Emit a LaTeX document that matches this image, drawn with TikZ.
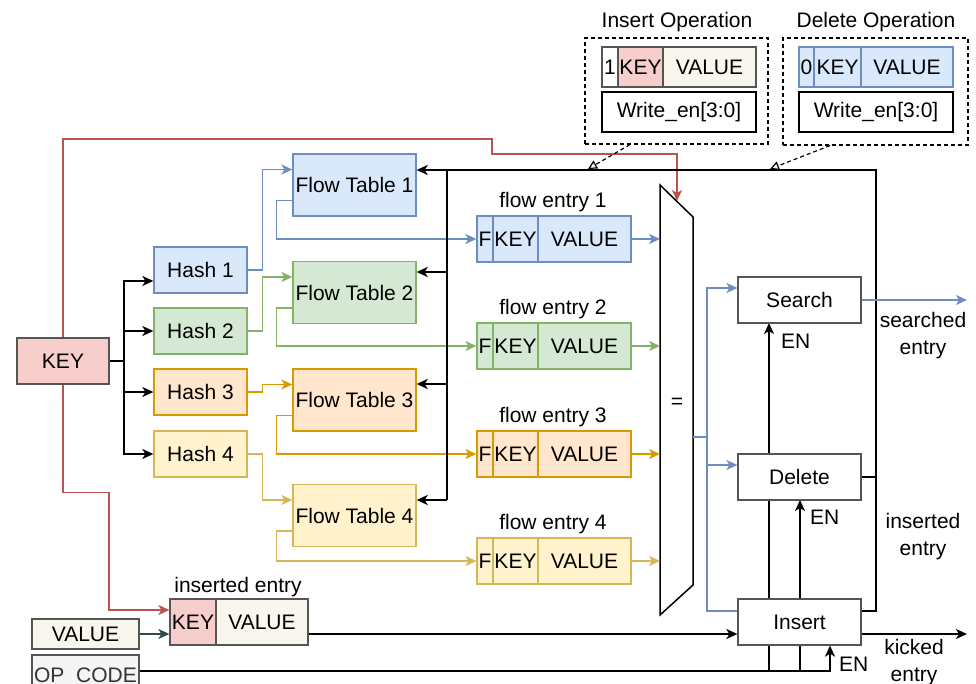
\documentclass[tikz,border=0pt]{standalone}
\usepackage{fontspec}
\setmainfont{Liberation Sans}
\usetikzlibrary{arrows.meta}

\definecolor{bfill}{HTML}{DAE8FC}\definecolor{bline}{HTML}{6C8EBF}
\definecolor{gfill}{HTML}{D5E8D4}\definecolor{gline}{HTML}{82B366}
\definecolor{ofill}{HTML}{FFE6CC}\definecolor{oline}{HTML}{D79B00}
\definecolor{yfill}{HTML}{FFF2CC}\definecolor{yline}{HTML}{D6B656}
\definecolor{rfill}{HTML}{F8CECC}\definecolor{rline}{HTML}{B85450}
\definecolor{vfill}{HTML}{F9F7ED}\definecolor{opfill}{HTML}{F5F5F5}
\definecolor{edge}{HTML}{555555}\definecolor{optext}{HTML}{333333}
\definecolor{slate}{HTML}{2B4C48}

\begin{document}
\begin{tikzpicture}[x=1pt,y=-1pt,
  every node/.style={font=\fontsize{21}{27}\selectfont, inner sep=0pt},
  boxst/.style={line width=1.3pt, minimum height=46pt},
  lcell/.style={line width=1.3pt, minimum height=40pt},
  wire/.style={line width=1.5pt},
  bus/.style={line width=2.2pt},
  arr/.style={-{Stealth[length=11pt,width=10pt,inset=3pt]}},
  opentip/.style={-{Triangle[length=9pt,width=9pt,fill=white]}},
  legend/.style={draw, dashed, dash pattern=on 4pt off 3pt, line width=1.2pt}]
\useasboundingbox (0,0) rectangle (976,684);
\clip (0,0) rectangle (976,684);

% ---------- key, hashes, flow tables ----------
\node[boxst, draw=edge, fill=rfill, minimum width=92pt] (key) at (63,361) {KEY};
\foreach \i/\y/\dc/\fc in {1/270/bline/bfill, 2/331/gline/gfill, 3/392/oline/ofill, 4/454/yline/yfill}
  \node[boxst, draw=\dc, fill=\fc, minimum width=93pt] (h\i) at (200.5,\y) {Hash \i};
\foreach \i/\y/\dc/\fc in {1/185/bline/bfill, 2/292.5/gline/gfill, 3/400/oline/ofill, 4/515.5/yline/yfill}
  \node[boxst, draw=\dc, fill=\fc, minimum width=123pt, minimum height=62pt] (ft\i) at (354.5,\y) {Flow Table \i};

% ---------- flow entries ----------
\foreach \i/\y/\dc/\fc in {1/239/bline/bfill, 2/346/gline/gfill, 3/454/oline/ofill, 4/561/yline/yfill}{
  \node[boxst, draw=\dc, fill=\fc, minimum width=16pt] (e\i-f) at (485,\y) {F};
  \node[boxst, draw=\dc, fill=\fc, minimum width=45pt] (e\i-k) at (515.5,\y) {KEY};
  \node[boxst, draw=\dc, fill=\fc, minimum width=93pt] (e\i-v) at (584.5,\y) {VALUE};
  \node (e\i-lab) at (553,\y-37) {flow entry \i};
}

% ---------- comparator ----------
\coordinate (cmpL) at (660,400);
\coordinate (cmpTop) at (677,201);
\coordinate (cmpOut) at (693,437);
\draw[line width=1.5pt, fill=white] (660,185) -- (693,217) -- (693,585) -- (660,615) -- cycle;
\node (eq) at (677,403) {=};

% ---------- colored datapaths ----------
\foreach \i/\dc in {1/bline, 2/gline, 3/oline, 4/yline}{
  \draw[wire, arr, draw=\dc] (h\i.east) -- ++(15,0) |- ([yshift=15.5pt]ft\i.west);
  \draw[wire, arr, draw=\dc] ([yshift=-15.5pt]ft\i.west) -- ++(-16,0) |- (e\i-f.west);
  \draw[wire, arr, draw=\dc] (e\i-v.east) -- (e\i-v.east -| cmpL);
}

% key fan-out to the hash units
\coordinate (kb) at (124,361);
\draw[wire] (key.east) -- (kb);
\draw[wire, arr] (kb) |- ([yshift=-11pt]h1.west);
\foreach \i in {2,3,4} \draw[wire, arr] (kb) |- (h\i.west);

% ---------- opcode enables (drawn under the op boxes) ----------
\coordinate (opj) at (800,671);
\coordinate (sA) at (769,323);
\coordinate (dA) at (800,500);
\draw[wire, arr] (sA |- opj) -- (sA);
\draw[wire, arr] (dA |- opj) -- (dA);

% ---------- operation units ----------
\node[boxst, draw=edge, fill=white, minimum width=123pt] (srch) at (799.5,300) {Search};
\node[boxst, draw=edge, fill=white, minimum width=123pt] (del) at (799.5,477) {Delete};
\node[boxst, draw=edge, fill=white, minimum width=123pt] (ins) at (799.5,622) {Insert};

% ---------- inputs ----------
\node[boxst, draw=edge, fill=rfill, minimum width=46pt] (iek) at (193,622) {KEY};
\node[boxst, draw=edge, fill=vfill, minimum width=92pt] (iev) at (262,622) {VALUE};
\node (ielab) at (238,587) {inserted entry};
\node[line width=1.3pt, draw=edge, fill=vfill, minimum width=107pt, minimum height=30pt] (val) at (85.5,634) {VALUE};
\node[line width=1.3pt, draw=edge, fill=opfill, text=optext, minimum width=107pt, minimum height=44pt,
      text height=15pt, text depth=5pt] (op) at (85.5,677) {OP\_CODE};

% key to comparator and to inserted entry
\draw[wire, arr, draw=rline] (key.north) |- (492,139) -- ++(0,15) -| (cmpTop);
\draw[wire, arr, draw=rline] (key.south) -- ++(0,108) -- ++(46,0) |- ([yshift=12pt]iek.west);
\draw[wire, arr, draw=slate] (val.east) -- ([yshift=-12pt]iek.west);

% ---------- write-back bus ----------
\coordinate (tr) at (876,170);
\coordinate (tl) at (447,170);
\draw[bus] ([yshift=11pt]ins.east) -| (tr) -- (tl) -- (447,500);
\draw[bus] (del.east) -- (del.east -| tr);
\draw[bus, arr] (tl) -- (ft1.east |- tl);
\foreach \i/\s in {2/20.5, 3/16, 4/15.5}{
  \coordinate (a\i) at ([yshift=\s pt]ft\i.east);
  \draw[bus, arr] (tl |- a\i) -- (a\i);
}

% ---------- comparator results ----------
\coordinate (bsplit) at (707,437);
\draw[wire, draw=bline] (cmpOut) -- (bsplit);
\draw[wire, arr, draw=bline] (bsplit) |- ([yshift=12pt]srch.west);
\draw[wire, arr, draw=bline] (bsplit) |- ([yshift=12pt]del.west);
\draw[wire, draw=bline] (bsplit) |- ([yshift=11pt]ins.west);

% outputs
\coordinate (sout) at (967,300);
\coordinate (kout) at (967,634);
\draw[wire, arr, draw=bline] (srch.east) -- (sout);
\draw[bus, arr] ([yshift=-12pt]iev.east) -- ([yshift=-12pt]ins.west);
\draw[wire, arr] ([yshift=-12pt]ins.east) -- (kout);

% opcode line
\draw[bus] (op.east |- opj) -- (opj);
\draw[wire, arr] (opj) -| ([xshift=30.5pt]ins.south);

% enable labels and output labels
\node[anchor=west] (en1) at (781,341) {EN};
\node[anchor=west] (en2) at (810,517) {EN};
\node[anchor=west] (en3) at (839,664) {EN};
\node[align=center] (lsrch) at (923,336) {searched\\entry};
\node[align=center] (lins) at (923,537) {inserted\\entry};
\node[align=center] (lkick) at (914,663) {kicked\\entry};

% ---------- operation legends ----------
\node (institle) at (677,22) {Insert Operation};
\node (deltitle) at (876,22) {Delete Operation};
\node[legend, minimum width=183pt, minimum height=106pt] (insbox) at (676.5,91) {};
\node[legend, minimum width=185pt, minimum height=107pt] (delbox) at (875.5,91.5) {};

\node[lcell, draw=edge, fill=white, minimum width=16pt] (i-1) at (610,67) {1};
\node[lcell, draw=edge, fill=rfill, minimum width=45pt] (i-k) at (640.5,67) {KEY};
\node[lcell, draw=edge, fill=vfill, minimum width=93pt] (i-v) at (709.5,67) {VALUE};
\node[lcell, draw=black, fill=white, minimum width=154pt] (i-w) at (679,112) {Write\_en[3:0]};

\node[lcell, draw=bline, fill=bfill, minimum width=15pt] (d-0) at (806.5,67) {0};
\node[lcell, draw=bline, fill=bfill, minimum width=47pt] (d-k) at (837.5,67) {KEY};
\node[lcell, draw=bline, fill=bfill, minimum width=92pt] (d-v) at (907,67) {VALUE};
\node[lcell, draw=black, fill=white, minimum width=154pt] (d-w) at (876,112) {Write\_en[3:0]};

\coordinate (insT) at (588,169);
\coordinate (delT) at (770,169);
\draw[line width=1.2pt, dashed, dash pattern=on 4pt off 3pt, opentip] ([xshift=-46.5pt]insbox.south) -- (insT);
\draw[line width=1.2pt, dashed, dash pattern=on 4pt off 3pt, opentip] ([xshift=-45.5pt]delbox.south) -- (delT);
\end{tikzpicture}
\end{document}
